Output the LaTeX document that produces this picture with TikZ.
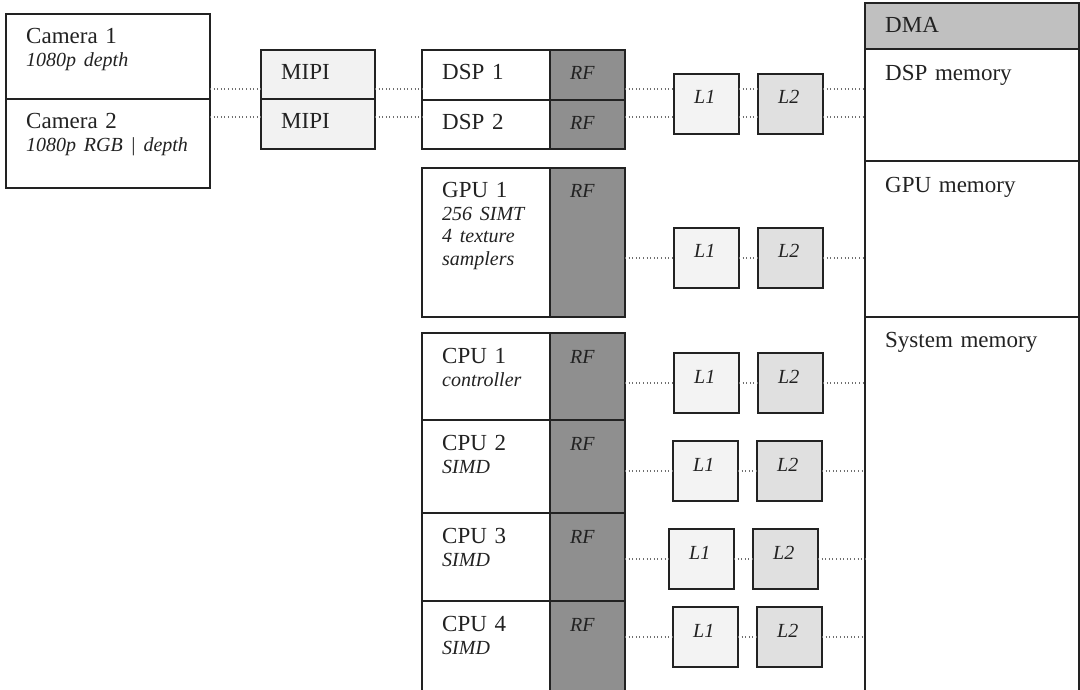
\documentclass[tikz,border=0pt]{standalone}
\usepackage{fontspec}
\setmainfont{Liberation Serif}
\usetikzlibrary{positioning}
\definecolor{ink}{HTML}{222222}
\definecolor{mipigray}{HTML}{F2F2F2}
\definecolor{lonegray}{HTML}{F3F3F3}
\definecolor{ltwogray}{HTML}{E0E0E0}
\definecolor{rfgray}{HTML}{8F8F8F}
\definecolor{dmagray}{HTML}{C0C0C0}
\newcommand{\subtxt}{\fontsize{20}{22.5}\selectfont\itshape}
\tikzset{
	cell/.style={rectangle, draw=ink, line width=1.6pt, anchor=north west,
		inner sep=0pt, outer sep=0pt},
	txt/.style={anchor=base west, xshift=20pt, yshift=-30pt, inner sep=0pt,
		text width=190pt, align=left, font=\fontsize{23}{23}\selectfont, text=ink},
	camblock/.style={cell, fill=white, minimum width=204pt},
	mipiblock/.style={cell, fill=mipigray, minimum width=114pt},
	unitblock/.style={cell, fill=white, minimum width=128pt},
	rfblock/.style={cell, fill=rfgray, minimum width=75pt},
	loneblock/.style={cell, fill=lonegray, minimum width=65pt, minimum height=60pt},
	ltwoblock/.style={cell, fill=ltwogray, minimum width=65pt, minimum height=60pt},
	memblock/.style={cell, fill=white, minimum width=214pt},
	link/.style={dash pattern=on 1pt off 2.6pt, line width=1.1pt, draw=ink!65},
}

\begin{document}
\begin{tikzpicture}[x=1pt, y=-1pt]
	\clip (0,0) rectangle (1080,690);
	% cameras and MIPI
	\node[camblock, minimum height=85pt, label={[txt]north west:{Camera 1\\\subtxt 1080p depth}}](cam1) at (6,14){};
	\node[camblock, minimum height=89pt, label={[txt]north west:{Camera 2\\\subtxt 1080p RGB | depth}}](cam2) at (cam1.south west){};
	\node[mipiblock, minimum height=49pt, label={[txt]north west:MIPI}](mipi1) at (261,50){};
	\node[mipiblock, minimum height=50pt, label={[txt]north west:MIPI}](mipi2) at (mipi1.south west){};
	% processing units with register files
	\node[unitblock, minimum height=50pt, label={[txt]north west:DSP 1}](dsp1) at (422,50){};
	\node[rfblock, minimum height=50pt, label={[txt, font=\subtxt]north west:RF}](rf1) at (dsp1.north east){};
	\node[unitblock, minimum height=49pt, label={[txt]north west:DSP 2}](dsp2) at (dsp1.south west){};
	\node[rfblock, minimum height=49pt, label={[txt, font=\subtxt]north west:RF}](rf2) at (dsp2.north east){};
	\node[unitblock, minimum height=149pt, label={[txt]north west:{GPU 1\\\subtxt 256 SIMT\\4 texture\\samplers}}](gpu) at (422,168){};
	\node[rfblock, minimum height=149pt, label={[txt, font=\subtxt]north west:RF}](gpurf) at (gpu.north east){};
	\node[unitblock, minimum height=87pt, label={[txt]north west:{CPU 1\\\subtxt controller}}](cpu1) at (422,333){};
	\node[rfblock, minimum height=87pt, label={[txt, font=\subtxt]north west:RF}](cpurf1) at (cpu1.north east){};
	\node[unitblock, minimum height=93pt, label={[txt]north west:{CPU 2\\\subtxt SIMD}}](cpu2) at (cpu1.south west){};
	\node[rfblock, minimum height=93pt, label={[txt, font=\subtxt]north west:RF}](cpurf2) at (cpu2.north east){};
	\node[unitblock, minimum height=88pt, label={[txt]north west:{CPU 3\\\subtxt SIMD}}](cpu3) at (cpu2.south west){};
	\node[rfblock, minimum height=88pt, label={[txt, font=\subtxt]north west:RF}](cpurf3) at (cpu3.north east){};
	\node[unitblock, minimum height=100pt, label={[txt]north west:{CPU 4\\\subtxt SIMD}}](cpu4) at (cpu3.south west){};
	\node[rfblock, minimum height=100pt, label={[txt, font=\subtxt]north west:RF}](cpurf4) at (cpu4.north east){};
	% caches
	\node[loneblock, label={[txt, font=\subtxt]north west:L1}](dspl1) at (674,74){};
	\node[ltwoblock, right=19pt of dspl1, label={[txt, font=\subtxt]north west:L2}](dspl2){};
	\node[loneblock, label={[txt, font=\subtxt]north west:L1}](gpul1) at (674,228){};
	\node[ltwoblock, right=19pt of gpul1, label={[txt, font=\subtxt]north west:L2}](gpul2){};
	\node[loneblock, label={[txt, font=\subtxt]north west:L1}](cpul1a) at (674,353){};
	\node[ltwoblock, right=19pt of cpul1a, label={[txt, font=\subtxt]north west:L2}](cpul2a){};
	\node[loneblock, label={[txt, font=\subtxt]north west:L1}](cpul1b) at (673,441){};
	\node[ltwoblock, right=19pt of cpul1b, label={[txt, font=\subtxt]north west:L2}](cpul2b){};
	\node[loneblock, label={[txt, font=\subtxt]north west:L1}](cpul1c) at (669,529){};
	\node[ltwoblock, right=19pt of cpul1c, label={[txt, font=\subtxt]north west:L2}](cpul2c){};
	\node[loneblock, label={[txt, font=\subtxt]north west:L1}](cpul1d) at (673,607){};
	\node[ltwoblock, right=19pt of cpul1d, label={[txt, font=\subtxt]north west:L2}](cpul2d){};
	% memory column
	\node[memblock, fill=dmagray, minimum height=46pt, label={[txt]north west:DMA}](dma) at (865,3){};
	\node[memblock, minimum height=112pt, label={[txt, yshift=-2pt]north west:DSP memory}](dspmem) at (dma.south west){};
	\node[memblock, minimum height=156pt, label={[txt, yshift=-2pt]north west:GPU memory}](gpumem) at (dspmem.south west){};
	\node[memblock, minimum height=390pt, label={[txt]north west:System memory}](sysmem) at (gpumem.south west){};
	% dotted links
	\coordinate (rowa) at (0,89);
	\coordinate (rowb) at (0,117);
	\draw[link](cam1.east |- rowa)--(mipi1.west |- rowa);
	\draw[link](cam2.east |- rowb)--(mipi2.west |- rowb);
	\draw[link](mipi1.east |- rowa)--(dsp1.west |- rowa);
	\draw[link](mipi2.east |- rowb)--(dsp2.west |- rowb);
	\draw[link](rf1.east |- rowa)--(dspl1.west |- rowa);
	\draw[link](rf2.east |- rowb)--(dspl1.west |- rowb);
	\draw[link](dspl1.east |- rowa)--(dspl2.west |- rowa);
	\draw[link](dspl1.east |- rowb)--(dspl2.west |- rowb);
	\draw[link](dspl2.east |- rowa)--(dspmem.west |- rowa);
	\draw[link](dspl2.east |- rowb)--(dspmem.west |- rowb);
	\draw[link](gpurf.east |- gpul1.west)--(gpul1.west);
	\draw[link](gpul1.east)--(gpul2.west);
	\draw[link](gpul2.east)--(gpumem.west |- gpul2.east);
	\draw[link](cpurf1.east |- cpul1a.west)--(cpul1a.west);
	\draw[link](cpul1a.east)--(cpul2a.west);
	\draw[link](cpul2a.east)--(sysmem.west |- cpul2a.east);
	\draw[link](cpurf2.east |- cpul1b.west)--(cpul1b.west);
	\draw[link](cpul1b.east)--(cpul2b.west);
	\draw[link](cpul2b.east)--(sysmem.west |- cpul2b.east);
	\draw[link](cpurf3.east |- cpul1c.west)--(cpul1c.west);
	\draw[link](cpul1c.east)--(cpul2c.west);
	\draw[link](cpul2c.east)--(sysmem.west |- cpul2c.east);
	\draw[link](cpurf4.east |- cpul1d.west)--(cpul1d.west);
	\draw[link](cpul1d.east)--(cpul2d.west);
	\draw[link](cpul2d.east)--(sysmem.west |- cpul2d.east);
\end{tikzpicture}
\end{document}
